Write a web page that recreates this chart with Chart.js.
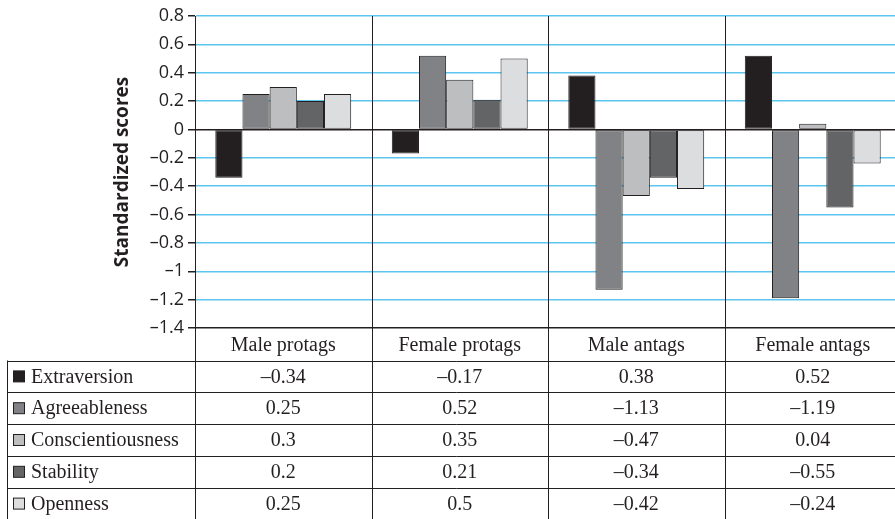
<!DOCTYPE html>
<html>
<head>
<meta charset="utf-8">
<script src="https://cdn.jsdelivr.net/npm/chart.js@4/dist/chart.umd.min.js"></script>
<style>
  html, body { margin: 0; padding: 0; background: #fff; overflow: hidden; }
  canvas { display: block; }
</style>
</head>
<body>
<canvas id="traitChart" width="905" height="519"></canvas>
<script>
// Data
const categories = ['Male protags', 'Female protags', 'Male antags', 'Female antags'];
const seriesNames = ['Extraversion', 'Agreeableness', 'Conscientiousness', 'Stability', 'Openness'];
const extraversion = [-0.34, -0.17, 0.38, 0.52];
const agreeableness = [0.25, 0.52, -1.13, -1.19];
const conscientiousness = [0.3, 0.35, -0.47, 0.04];
const stability = [0.2, 0.21, -0.34, -0.55];
const openness = [0.25, 0.5, -0.42, -0.24];
const yMin = -1.4, yMax = 0.8, yStep = 0.2;

const seriesValues = [extraversion, agreeableness, conscientiousness, stability, openness];
const seriesColors = ['#231f20', '#808285', '#bcbec0', '#636466', '#dcdddf'];

const INK = '#231f20';
const GRID = '#5cc6ef';
const SERIF = '"Liberation Serif", "Times New Roman", serif';
const SANS = '"Open Sans", sans-serif';

function dash(v) {
    return String(v).replace('-', '\u2013');
}

// Data table under the plot, drawn from the same arrays
const dataTablePlugin = {
    id: 'dataTable',
    afterDraw(chart) {
        const ctx = chart.ctx;
        const area = chart.chartArea;
        const x = chart.scales.x;
        const half = (x.getPixelForValue(1) - x.getPixelForValue(0)) / 2;
        const headerTop = area.bottom;
        const headerBottom = headerTop + 32.5;
        const rowH = 31.8;
        const tableLeft = 7.5;
        const bottom = chart.height;

        ctx.save();
        ctx.strokeStyle = INK;
        ctx.lineWidth = 1;

        // vertical separators
        ctx.beginPath();
        for (let i = 0; i <= categories.length; i++) {
            const px = Math.round(x.getPixelForValue(i) - half) + 0.5;
            ctx.moveTo(px, area.top);
            ctx.lineTo(px, bottom);
        }
        ctx.moveTo(tableLeft, headerBottom);
        ctx.lineTo(tableLeft, bottom);
        // horizontal lines
        for (let r = 0; r < seriesNames.length; r++) {
            const y = Math.round(headerBottom + r * rowH) + 0.5;
            ctx.moveTo(tableLeft, y);
            ctx.lineTo(chart.width, y);
        }
        ctx.stroke();

        ctx.fillStyle = INK;
        ctx.font = '20px ' + SERIF;
        ctx.textAlign = 'center';
        ctx.textBaseline = 'middle';
        categories.forEach((c, i) => {
            ctx.fillText(c, x.getPixelForValue(i), (headerTop + headerBottom) / 2 + 1);
        });

        seriesNames.forEach((name, r) => {
            const cy = headerBottom + r * rowH + rowH / 2 + 1;
            // legend key
            ctx.fillStyle = seriesColors[r];
            ctx.fillRect(13.5, cy - 6.5, 11, 11);
            ctx.strokeStyle = INK;
            ctx.strokeRect(13.5, cy - 6.5, 11, 11);
            ctx.fillStyle = INK;
            ctx.textAlign = 'left';
            ctx.fillText(name, 31, cy);
            ctx.textAlign = 'center';
            seriesValues[r].forEach((v, i) => {
                ctx.fillText(dash(v), x.getPixelForValue(i), cy);
            });
        });
        ctx.restore();
    }
};

const ctx = document.getElementById('traitChart').getContext('2d');
const traitChart = new Chart(ctx, {
    type: 'bar',
    data: {
        labels: categories,
        datasets: seriesNames.map((name, i) => ({
            label: name,
            data: seriesValues[i],
            backgroundColor: seriesColors[i],
            borderColor: INK,
            borderWidth: 1,
            borderSkipped: false,
            categoryPercentage: 0.77,
            barPercentage: 1
        }))
    },
    options: {
        responsive: false,
        animation: false,
        devicePixelRatio: 1,
        layout: { padding: { left: 0, top: 16, right: 4, bottom: 191 } },
        plugins: {
            legend: { display: false },
            tooltip: { enabled: false }
        },
        scales: {
            x: { display: false },
            y: {
                min: yMin,
                max: yMax,
                afterFit(scale) { scale.width = 195; },
                ticks: {
                    stepSize: yStep,
                    color: INK,
                    padding: 4,
                    font: { family: SANS, size: 18 },
                    callback: v => dash(Math.round(v * 10) / 10)
                },
                grid: {
                    color: c => (c.tick && (Math.abs(c.tick.value) < 1e-9 || Math.abs(c.tick.value - yMin) < 1e-9)) ? INK : GRID,
                    lineWidth: 1.5,
                    tickLength: 7,
                    tickColor: INK
                },
                border: { display: true, color: INK, width: 1 },
                title: {
                    display: true,
                    text: 'Standardized scores',
                    color: INK,
                    font: { family: SANS, size: 19, weight: 'bold' },
                    padding: { top: 111, bottom: 0 }
                }
            }
        }
    },
    plugins: [dataTablePlugin]
});
</script>
</body>
</html>
